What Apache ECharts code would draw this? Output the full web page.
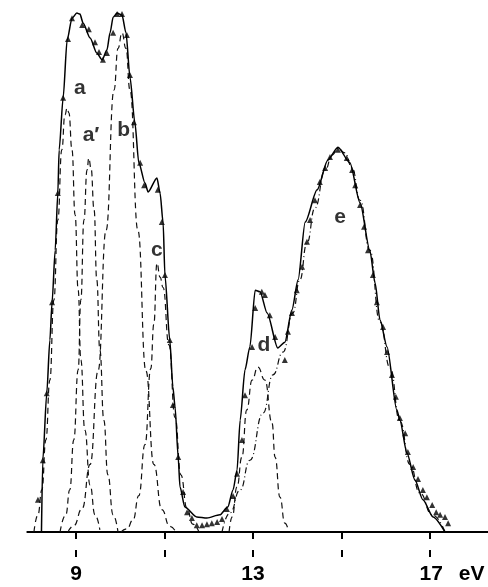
<!DOCTYPE html>
<html><head><meta charset="utf-8">
<script src="https://cdn.jsdelivr.net/npm/echarts@6/dist/echarts.min.js"></script>
<style>html,body{margin:0;padding:0;background:#fff}#c{width:488px;height:587px}</style>
</head><body><div id="c"></div>
<script>
// Fitted envelope (solid)
const envelope = [[8.22,0],[8.25,13.8],[8.34,26.7],[8.41,36.9],[8.46,44.2],[8.53,54.2],[8.59,65.2],[8.62,73.5],[8.71,83.5],[8.80,94.6],[8.91,98.8],[9.02,99.8],[9.09,99.6],[9.16,97.9],[9.32,95.0],[9.47,92.1],[9.59,90.8],[9.70,92.7],[9.77,96.0],[9.84,99.0],[9.93,99.8],[10.04,99.4],[10.13,96.0],[10.22,87.5],[10.33,78.8],[10.42,71.0],[10.56,67.1],[10.63,65.4],[10.83,68.1],[10.90,65.2],[10.97,59.4],[11.01,49.4],[11.12,36.9],[11.19,27.9],[11.24,24.0],[11.31,14.4],[11.35,8.7],[11.46,4.8],[11.73,2.9],[11.96,2.7],[12.25,3.3],[12.43,4.8],[12.55,8.1],[12.64,11.9],[12.71,21.5],[12.82,31.2],[12.93,35.6],[13.05,46.5],[13.16,46.2],[13.32,42.1],[13.56,35.4],[13.72,36.5],[13.88,42.7],[14.02,48.5],[14.18,59.6],[14.45,65.8],[14.69,71.5],[14.92,74.0],[15.19,71.0],[15.42,63.3],[15.64,54.2],[15.76,47.9],[15.87,40.8],[16.03,35.6],[16.25,23.5],[16.32,21.5],[16.48,15.2],[16.66,10.0],[16.84,6.2],[17.07,2.9],[17.34,0]];
// Measured points (triangles)
const measured = [[8.14,6.2],[8.25,13.8],[8.34,26.7],[8.46,44.2],[8.59,65.2],[8.71,83.5],[8.82,94.8],[8.91,98.8],[9.14,97.5],[9.29,96.7],[9.43,94.2],[9.52,92.3],[9.61,90.8],[9.70,92.1],[9.84,96.0],[9.93,99.6],[10.04,99.6],[10.15,95.6],[10.22,87.9],[10.31,78.8],[10.45,71.0],[10.54,66.7],[10.85,65.8],[10.94,59.6],[11.01,49.4],[11.12,36.9],[11.19,24.4],[11.31,14.4],[11.42,7.7],[11.51,3.8],[11.62,2.7],[11.73,1.3],[11.85,1.3],[11.96,1.5],[12.07,1.7],[12.19,1.9],[12.30,2.5],[12.41,4.4],[12.55,6.9],[12.64,11.2],[12.75,17.7],[12.82,26.3],[12.98,35.6],[13.05,43.1],[13.20,46.2],[13.27,45.6],[13.38,41.7],[13.50,37.5],[13.72,33.1],[13.79,38.5],[13.88,42.1],[13.99,46.5],[14.11,51.0],[14.22,55.8],[14.29,60.0],[14.40,63.8],[14.51,67.3],[14.63,70.0],[14.74,72.1],[14.92,73.5],[15.12,71.9],[15.24,69.6],[15.31,66.7],[15.42,62.9],[15.51,58.7],[15.60,54.2],[15.71,49.4],[15.80,44.2],[15.94,39.4],[16.03,34.6],[16.14,30.2],[16.23,26.0],[16.32,21.9],[16.44,19.0],[16.50,15.4],[16.62,12.5],[16.73,10.2],[16.84,8.1],[16.93,6.7],[17.05,5.2],[17.14,3.8],[17.23,3.3],[17.34,2.9],[17.41,1.7]];
// Component bands (dashed)
const compA = [[8.05,0],[8.14,3.3],[8.23,8.1],[8.32,17.7],[8.41,29.2],[8.50,44.6],[8.59,60.0],[8.68,73.5],[8.75,80.2],[8.80,81.5],[8.84,80.6],[8.91,73.5],[8.98,61.0],[9.05,46.5],[9.11,33.1],[9.20,19.6],[9.32,9.0],[9.43,3.3],[9.54,0.4]];
const compA2 = [[8.64,0],[8.77,3.3],[8.86,8.1],[8.95,17.7],[9.05,31.2],[9.11,44.6],[9.18,60.0],[9.25,69.6],[9.29,71.9],[9.34,70.0],[9.41,61.9],[9.47,48.5],[9.54,35.0],[9.63,21.5],[9.72,11.0],[9.84,3.3],[9.95,0]];
const compB = [[8.82,0],[8.95,1.2],[9.14,4.5],[9.32,13],[9.50,31],[9.68,58],[9.86,85],[9.95,93],[10.04,96],[10.13,93],[10.22,85],[10.40,58],[10.58,31],[10.76,13],[10.94,4.3],[11.12,1.1],[11.26,0]];
const compC = [[10.02,0],[10.15,0.6],[10.29,2.3],[10.42,7],[10.56,16.8],[10.69,31.4],[10.76,40],[10.83,51.7],[10.90,49],[10.97,47],[11.10,36],[11.24,22],[11.37,11],[11.51,4.5],[11.64,1.5],[11.78,0]];
const compD = [[12.46,0],[12.53,2.9],[12.64,8.7],[12.75,14.4],[12.86,23.5],[12.98,29.2],[13.11,31.7],[13.27,29.2],[13.43,21.0],[13.50,14.4],[13.61,6.7],[13.72,1.7],[13.81,0]];
const compE = [[12.30,0],[12.48,3.7],[12.71,8.1],[12.93,13.8],[13.23,22.9],[13.45,30.2],[13.68,34.6],[13.90,42.1],[14.06,48.5],[14.22,55.6],[14.40,62.3],[14.63,69.6],[14.79,72.5],[14.92,73.8],[15.08,72.9],[15.24,70.0],[15.42,63.8],[15.64,54.2],[15.87,40.4],[16.10,31.5],[16.32,21.3],[16.55,13.0],[16.77,7.5],[17.05,3.3],[17.34,0]];
const baseline = [[10.06,0],[17.41,0]];
const peakLabels = ['a','a\u2032','b','c','d','e'];
const peakLabelPos = [[9.09,85.4],[9.34,76.3],[10.08,77.3],[10.83,54.2],[13.25,36.0],[14.97,60.6]];
const tickValues = [9,11,13,15,17];
const labelValues = [9,13,17];
const axisUnit = 'eV';

const chart = echarts.init(document.getElementById('c'));
const FONT = '"Liberation Sans", Arial, sans-serif';
const lastLabel = labelValues[labelValues.length - 1];
const dashed = (data, dash) => ({
  type:'line', data, showSymbol:false, smooth:0.5, smoothMonotone:'x', silent:true,
  lineStyle:{color:'#111', width:1.2, type:dash || [6,4]}, z:2
});
chart.setOption({
  animation:false,
  backgroundColor:'#fff',
  grid:{left:27.3, right:0.5, top:12, bottom:55},
  xAxis:[{
    type:'value', min:7.9, max:18.3, position:'bottom', offset:25,
    splitLine:{show:false},
    axisLine:{show:true, lineStyle:{color:'#000', width:2}},
    axisTick:{show:true, customValues:tickValues, length:7, lineStyle:{color:'#000', width:2}},
    axisLabel:{show:true, customValues:labelValues, margin:7, color:'#000', fontSize:21, fontWeight:'bold', fontFamily:FONT,
      formatter:v => v === lastLabel ? '{n|' + v + '}{u|' + axisUnit + '}' : String(v),
      rich:{
        n:{color:'#000', fontSize:21, fontWeight:'bold', fontFamily:FONT, padding:[0,0,0,44]},
        u:{color:'#000', fontSize:21, fontWeight:'bold', fontFamily:FONT, padding:[0,0,0,16]}
      }}
  },{
    type:'value', min:7.9, max:18.3, position:'bottom', offset:25,
    splitLine:{show:false}, axisLine:{show:false},
    axisTick:{show:true, inside:true, customValues:tickValues, length:7, lineStyle:{color:'#000', width:2}},
    axisLabel:{show:false}
  }],
  yAxis:{type:'value', min:0, max:100, show:false},
  series:[
    dashed(compA), dashed(compA2), dashed(compB), dashed(compC), dashed(compD),
    dashed(compE,[6,3,1,3]),
    {type:'line', data:baseline, showSymbol:false, lineStyle:{color:'#000', width:2}, z:3},
    {type:'line', data:envelope, showSymbol:false, smooth:0.25, smoothMonotone:'x', lineStyle:{color:'#000', width:1.5}, z:4},
    {type:'scatter', data:measured, symbol:'triangle', symbolSize:6, itemStyle:{color:'#000'}, z:5},
    {type:'scatter', data:peakLabelPos.map((p,i)=>({value:p, name:peakLabels[i]})), symbolSize:0, z:6,
      label:{show:true, position:'inside', formatter:p=>p.name, color:'#000', fontSize:21, fontWeight:'bold', fontFamily:FONT}}
  ]
});
</script>
</body></html>
